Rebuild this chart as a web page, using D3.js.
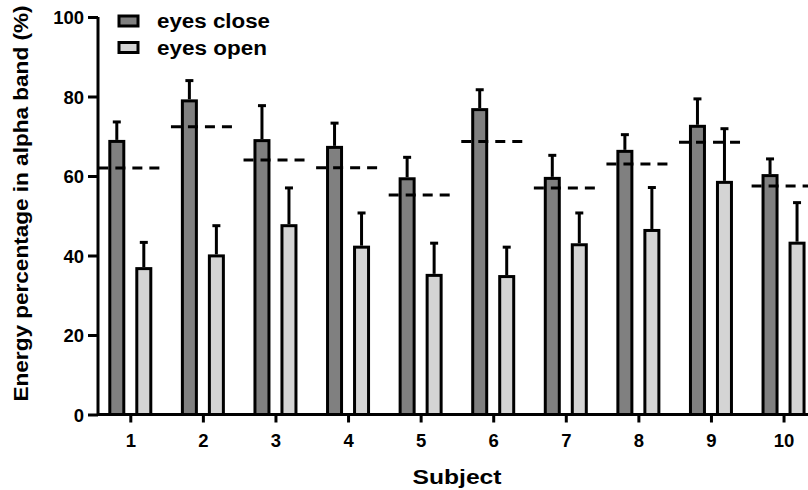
<!DOCTYPE html>
<html>
<head>
<meta charset="utf-8">
<script src="https://cdn.jsdelivr.net/npm/d3@7"></script>
<style>
  html, body { margin: 0; padding: 0; background: #fff; }
  svg { display: block; font-family: "Liberation Sans", Arial, sans-serif; font-weight: bold; }
</style>
</head>
<body>
<svg id="chart" width="808" height="490"></svg>
<script>
// Per-subject alpha-band energy percentages
const subjects = [1, 2, 3, 4, 5, 6, 7, 8, 9, 10];
const eyesClose = [68.7, 78.9, 68.9, 67.2, 59.3, 76.7, 59.4, 66.2, 72.5, 60.1];
const eyesCloseErr = [4.9, 5.1, 8.8, 6.1, 5.4, 5.0, 5.8, 4.2, 6.9, 4.2];
const eyesOpen = [36.7, 39.9, 47.5, 42.1, 35.0, 34.7, 42.7, 46.3, 58.4, 43.1];
const eyesOpenErr = [6.6, 7.6, 9.5, 8.6, 8.1, 7.4, 8.0, 10.8, 13.5, 10.2];
const thresholds = [62.0, 72.4, 64.0, 62.1, 55.2, 68.7, 57.0, 63.0, 68.5, 57.5];
const yTicks = [0, 20, 40, 60, 80, 100];
const seriesNames = ["eyes close", "eyes open"];
const seriesColors = ["#808080", "#d4d4d4"];

const svg = d3.select("#chart");

const x = d3.scaleLinear().domain([0.555, 10.337]).range([98, 808]);
const y = d3.scaleLinear().domain([0, 100]).range([414.5, 17]);

const barW = 14;      // fill width, stroke adds 3px outside
const barOff = 13.5;  // distance of each bar centre from the subject tick
const capW = 8;

const rows = subjects.map((s, i) => ({
  s,
  close: eyesClose[i], closeErr: eyesCloseErr[i],
  open: eyesOpen[i], openErr: eyesOpenErr[i],
  thr: thresholds[i]
}));

// bars
const series = [
  { key: "close", err: "closeErr", dx: -barOff, color: seriesColors[0] },
  { key: "open", err: "openErr", dx: barOff, color: seriesColors[1] }
];

series.forEach(sr => {
  const g = svg.append("g");
  g.selectAll("rect").data(rows).join("rect")
    .attr("x", d => x(d.s) + sr.dx - barW / 2)
    .attr("y", d => y(d[sr.key]))
    .attr("width", barW)
    .attr("height", d => y(0) - y(d[sr.key]))
    .attr("fill", sr.color)
    .attr("stroke", "#000")
    .attr("stroke-width", 3);

  // error bars (upper half only)
  g.selectAll("line.stem").data(rows).join("line")
    .attr("class", "stem")
    .attr("x1", d => x(d.s) + sr.dx).attr("x2", d => x(d.s) + sr.dx)
    .attr("y1", d => y(d[sr.key]) - 1.5)
    .attr("y2", d => y(d[sr.key] + d[sr.err]))
    .attr("stroke", "#000").attr("stroke-width", 3);
  g.selectAll("line.cap").data(rows).join("line")
    .attr("class", "cap")
    .attr("x1", d => x(d.s) + sr.dx - capW / 2)
    .attr("x2", d => x(d.s) + sr.dx + capW / 2)
    .attr("y1", d => y(d[sr.key] + d[sr.err]))
    .attr("y2", d => y(d[sr.key] + d[sr.err]))
    .attr("stroke", "#000").attr("stroke-width", 3);
});

// dashed reference level per subject
svg.append("g").selectAll("line").data(rows).join("line")
  .attr("x1", d => x(d.s - 0.44))
  .attr("x2", d => x(d.s + 0.42))
  .attr("y1", d => y(d.thr)).attr("y2", d => y(d.thr))
  .attr("stroke", "#000")
  .attr("stroke-width", 3)
  .attr("stroke-dasharray", "10,7");

// axes
const yAxis = svg.append("g")
  .attr("transform", `translate(${x.range()[0]},0)`)
  .call(d3.axisLeft(y).tickValues(yTicks).tickSize(10).tickPadding(4));
const xAxis = svg.append("g")
  .attr("transform", `translate(0,${y(0)})`)
  .call(d3.axisBottom(x).tickValues(subjects).tickSize(8).tickPadding(11).tickFormat(d3.format("d")));

[yAxis, xAxis].forEach(a => {
  a.select(".domain").attr("stroke", "#000").attr("stroke-width", 3);
  a.selectAll(".tick line").attr("stroke", "#000").attr("stroke-width", 3);
  a.selectAll(".tick text")
    .attr("fill", "#000")
    .style("font-family", "'Liberation Sans', Arial, sans-serif")
    .style("font-weight", "bold")
    .style("font-size", "18.5px");
});
yAxis.selectAll(".tick text").attr("dy", "0.36em");
yAxis.select(".domain").attr("d", `M0,${y(100)}V${y(0)}`);
xAxis.select(".domain").attr("d", `M${x.range()[0]},0H${x.range()[1]}`);

// axis titles
svg.append("text")
  .attr("x", 457).attr("y", 484)
  .attr("text-anchor", "middle")
  .style("font-size", "21px")
  .attr("textLength", 89)
  .attr("lengthAdjust", "spacingAndGlyphs")
  .text("Subject");

svg.append("text")
  .attr("transform", "translate(28,203.5) rotate(-90)")
  .attr("text-anchor", "middle")
  .style("font-size", "21px")
  .attr("textLength", 396)
  .attr("lengthAdjust", "spacingAndGlyphs")
  .text("Energy percentage in alpha band (%)");

// legend
const legend = svg.append("g");
const legendWidths = [113, 110];
seriesNames.forEach((name, i) => {
  const ly = 21 + i * 26.5;
  legend.append("rect")
    .attr("x", 119).attr("y", ly - 5)
    .attr("width", 19).attr("height", 10)
    .attr("fill", seriesColors[i])
    .attr("stroke", "#000").attr("stroke-width", 3);
  legend.append("text")
    .attr("x", 157).attr("y", ly + 7)
    .style("font-size", "19.5px")
    .attr("textLength", legendWidths[i])
    .attr("lengthAdjust", "spacingAndGlyphs")
    .text(name);
});
</script>
</body>
</html>
